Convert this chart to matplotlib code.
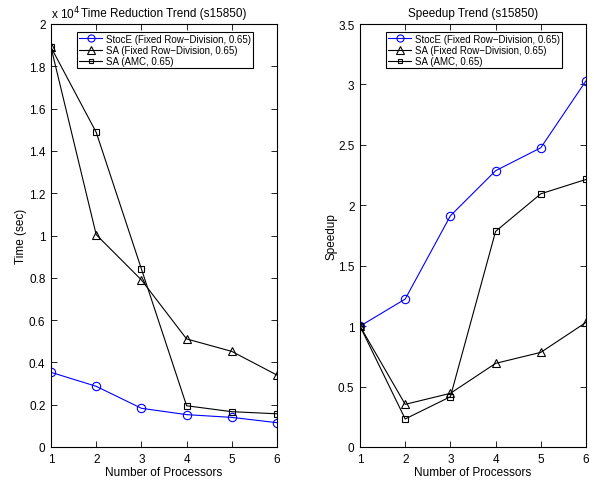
import matplotlib
matplotlib.use("Agg")
import matplotlib.pyplot as plt
from matplotlib.ticker import FuncFormatter, MultipleLocator

plt.rcParams['font.family'] = ['Liberation Sans', 'DejaVu Sans']

procs = [1, 2, 3, 4, 5, 6]

# Time (sec)
time_stoce = [3530, 2870, 1830, 1530, 1400, 1150]
time_sa_fixed = [18900, 10040, 7900, 5110, 4520, 3400]
time_sa_amc = [18900, 14880, 8420, 1950, 1670, 1570]

# Speedup
sp_stoce = [1.0, 1.224, 1.913, 2.286, 2.476, 3.03]
sp_sa_fixed = [1.0, 0.353, 0.444, 0.692, 0.783, 1.031]
sp_sa_amc = [1.0, 0.232, 0.416, 1.784, 2.095, 2.214]

labels = ['StocE (Fixed Row\u2212Division, 0.65)',
          'SA (Fixed Row\u2212Division, 0.65)',
          'SA (AMC, 0.65)']

W, H = 594, 481
fig = plt.figure(figsize=(W / 100, H / 100), dpi=100)
ax1 = fig.add_axes([51 / W, 33 / H, 226 / W, 423 / H])
ax2 = fig.add_axes([360 / W, 33 / H, 226 / W, 423 / H])

lw = 0.8
def draw(ax, a, b, c):
    ax.plot(procs, a, color='#0000ff', lw=lw, marker='o', ms=6, mfc='none', mew=0.8, label=labels[0])
    ax.plot(procs, b, color='black', lw=lw, marker='^', ms=6, mfc='none', mew=0.8, label=labels[1])
    ax.plot(procs, c, color='black', lw=lw, marker='s', ms=4, mfc='none', mew=0.8, label=labels[2])

draw(ax1, time_stoce, time_sa_fixed, time_sa_amc)
draw(ax2, sp_stoce, sp_sa_fixed, sp_sa_amc)

def fmt(v):
    s = ('%.1f' % v).rstrip('0').rstrip('.')
    return s

for ax in (ax1, ax2):
    ax.set_xlim(1, 6)
    ax.set_xticks(procs)
    ax.tick_params(direction='in', top=True, right=True, labelsize=8.5, length=4, width=0.6, pad=4)
    for sp in ax.spines.values():
        sp.set_linewidth(0.8)
    ax.set_xlabel('Number of Processors', fontsize=8.5, labelpad=1)
    leg = ax.legend(loc='upper left', bbox_to_anchor=(0.115, 0.982), fontsize=7, frameon=True,
                    fancybox=False, edgecolor='black', framealpha=1, borderpad=0.2,
                    labelspacing=0.15, handlelength=2.4, handletextpad=0.4, borderaxespad=0,
                    markerscale=0.85)
    leg.get_frame().set_linewidth(0.8)

ax1.set_ylim(0, 20000)
ax1.yaxis.set_major_locator(MultipleLocator(2000))
ax1.yaxis.set_major_formatter(FuncFormatter(lambda v, p: fmt(v / 1e4)))
ax1.set_ylabel('Time (sec)', fontsize=8.5, labelpad=1.5)
ax1.set_title('Time Reduction Trend (s15850)', fontsize=8.5, pad=6)
ax1.text(0.0, 1.007, 'x 10$^4$', transform=ax1.transAxes, fontsize=8.5, ha='left', va='bottom')

ax2.set_ylim(0, 3.5)
ax2.yaxis.set_major_locator(MultipleLocator(0.5))
ax2.yaxis.set_major_formatter(FuncFormatter(lambda v, p: fmt(v)))
ax2.set_ylabel('Speedup', fontsize=8.5, labelpad=0.5)
ax2.set_title('Speedup Trend (s15850)', fontsize=8.5, pad=6)

fig.savefig('out.png', dpi=100)
